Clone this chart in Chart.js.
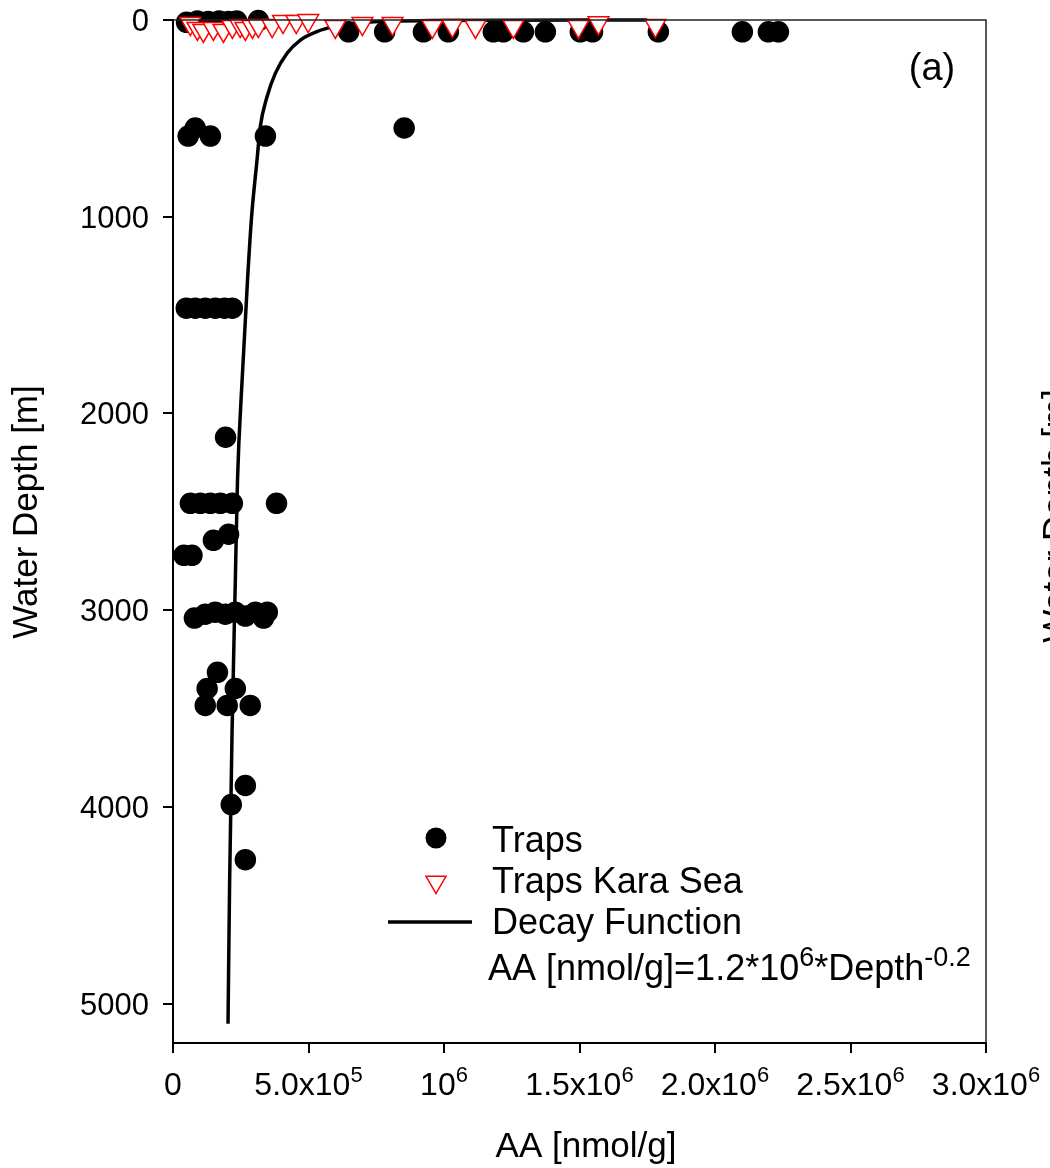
<!DOCTYPE html>
<html>
<head>
<meta charset="utf-8">
<script src="https://cdn.jsdelivr.net/npm/chart.js@4.4.1/dist/chart.umd.min.js"></script>
<style>
  html, body { margin: 0; padding: 0; background: #fff; }
</style>
</head>
<body>
<canvas id="chart" width="1050" height="1168"></canvas>
<script>
const FONT = '"Liberation Sans", Arial, sans-serif';

// Traps (black circles): AA [nmol/g] and water depth [m]
const trapsAA = [
  50000, 90000, 130000, 170000, 205000, 235000, 315000,
  648000, 781000, 924000, 1016000, 1182000, 1219000, 1293000, 1374000, 1503000, 1548000, 1791000, 2101000, 2197000, 2234000,
  56000, 82000, 138000, 341000, 853000,
  49000, 82000, 119000, 156000, 190000, 219000,
  194000,
  64000, 101000, 138000, 175000, 219000, 382000,
  205000, 149000,
  40000, 70000,
  79000, 119000, 156000, 193000, 230000, 267000, 304000, 334000, 348000,
  164000, 126000, 230000, 119000, 200000, 285000,
  267000, 215000, 267000
];
const trapsDepth = [
  12, 5, 8, 5, 8, 5, 3,
  60, 60, 60, 60, 60, 60, 60, 60, 60, 60, 60, 60, 60, 60,
  590, 549, 590, 590, 549,
  1465, 1465, 1465, 1465, 1465, 1465,
  2121,
  2457, 2457, 2457, 2457, 2457, 2457,
  2614, 2645,
  2721, 2721,
  3040, 3020, 3010, 3020, 3010, 3030, 3010, 3040, 3010,
  3316, 3398, 3398, 3484, 3484, 3484,
  3891, 3988, 4268
];

// Traps Kara Sea (red open triangles)
const karaAA = [
  64000, 90000, 112000, 149000, 186000, 219000, 248000, 267000, 293000, 315000, 366000, 406000,
  455000, 499000, 599000, 699000, 810000, 957000, 1031000, 1116000, 1256000, 1496000, 1570000, 1780000
];
const karaDepth = [
  18, 43, 53, 43, 53, 33, 28, 43, 33, 28, 28, 8,
  8, 3, 33, 18, 18, 33, 28, 33, 33, 33, 14, 28
];

// Decay function
const decayAA = [1750000, 1200000, 950000, 813000, 691000, 605000, 531000, 470000, 421000, 378000, 347000,
  322000, 310000, 290000, 275000, 255000, 238000, 230000, 218000, 209000, 203000];
const decayDepth = [0, 1, 3, 5, 14, 30, 59, 102, 169, 270, 390,
  543, 712, 1000, 1322, 1831, 2340, 2848, 3611, 4374, 5102];

// Tick labels
const xTickValues = [0, 500000, 1000000, 1500000, 2000000, 2500000, 3000000];
const xTickBase = ['0', '5.0x10', '10', '1.5x10', '2.0x10', '2.5x10', '3.0x10'];
const xTickExp = ['', '5', '6', '6', '6', '6', '6'];
const yTickValues = [0, 1000, 2000, 3000, 4000, 5000];

const toPoints = (xs, ys) => xs.map((x, i) => ({ x: x, y: ys[i] }));

// draw text with superscript parts
function drawRich(ctx, parts, x, y, size, align, supRatio) {
  const supSize = Math.round(size * (supRatio || 0.68));
  let w = 0;
  parts.forEach(p => {
    ctx.font = (p.sup ? supSize : size) + 'px ' + FONT;
    w += ctx.measureText(p.t).width;
  });
  let cx = align === 'center' ? x - w / 2 : (align === 'right' ? x - w : x);
  ctx.textAlign = 'left';
  ctx.textBaseline = 'alphabetic';
  parts.forEach(p => {
    ctx.font = (p.sup ? supSize : size) + 'px ' + FONT;
    ctx.fillText(p.t, cx, p.sup ? y - size * 0.4 : y);
    cx += ctx.measureText(p.t).width;
  });
}

const decorations = {
  id: 'decorations',
  afterDraw(chart) {
    const ctx = chart.ctx;
    const area = chart.chartArea;
    const xs = chart.scales.x;
    const ys = chart.scales.y;
    ctx.save();

    // thin top and right frame
    ctx.strokeStyle = '#222';
    ctx.lineWidth = 1.5;
    ctx.beginPath();
    ctx.moveTo(area.left, area.top);
    ctx.lineTo(area.right, area.top);
    ctx.lineTo(area.right, area.bottom);
    ctx.stroke();

    ctx.fillStyle = '#000';

    // x tick labels
    xTickValues.forEach((v, i) => {
      const parts = [{ t: xTickBase[i] }];
      if (xTickExp[i]) parts.push({ t: xTickExp[i], sup: true });
      drawRich(ctx, parts, xs.getPixelForValue(v), 1095, 32, 'center', 0.7);
    });

    // y tick labels
    ctx.font = '31px ' + FONT;
    ctx.textAlign = 'right';
    ctx.textBaseline = 'alphabetic';
    yTickValues.forEach(v => {
      ctx.fillText(String(v), 149, ys.getPixelForValue(v) + 11);
    });

    // axis titles
    ctx.font = '35px ' + FONT;
    ctx.textAlign = 'center';
    ctx.fillText('AA [nmol/g]', 586, 1157);
    ctx.save();
    ctx.translate(37, 512);
    ctx.rotate(-Math.PI / 2);
    ctx.fillText('Water Depth [m]', 0, 0);
    ctx.restore();

    // neighbouring panel's axis title, cut by the right edge
    ctx.save();
    ctx.translate(1067, 516);
    ctx.rotate(-Math.PI / 2);
    ctx.fillText('Water Depth [m]', 0, 0);
    ctx.restore();

    // panel label
    ctx.font = '38px ' + FONT;
    ctx.fillText('(a)', 932, 80);

    // legend
    ctx.fillStyle = '#000';
    ctx.beginPath();
    ctx.arc(436, 838, 10.5, 0, Math.PI * 2);
    ctx.fill();

    const r = 11.5;
    ctx.beginPath();
    ctx.moveTo(436, 882 + r);
    ctx.lineTo(436 - r * 0.866, 882 - r / 2);
    ctx.lineTo(436 + r * 0.866, 882 - r / 2);
    ctx.closePath();
    ctx.strokeStyle = '#ff0000';
    ctx.lineWidth = 1.5;
    ctx.stroke();

    ctx.strokeStyle = '#000';
    ctx.lineWidth = 3.5;
    ctx.beginPath();
    ctx.moveTo(388, 922);
    ctx.lineTo(472, 922);
    ctx.stroke();

    ctx.font = '36px ' + FONT;
    ctx.textAlign = 'left';
    ctx.fillText('Traps', 492, 852);
    ctx.fillText('Traps Kara Sea', 492, 893);
    ctx.fillText('Decay Function', 492, 934);
    drawRich(ctx, [
      { t: 'AA [nmol/g]=1.2*10' }, { t: '6', sup: true },
      { t: '*Depth' }, { t: '-0.2', sup: true }
    ], 488, 980, 36, 'left', 0.74);

    ctx.restore();
  }
};

new Chart(document.getElementById('chart'), {
  type: 'scatter',
  data: {
    datasets: [
      {
        label: 'Traps Kara Sea',
        data: toPoints(karaAA, karaDepth),
        pointStyle: 'triangle',
        rotation: 180,
        pointRadius: 12,
        pointBackgroundColor: '#fff',
        pointBorderColor: '#ff0000',
        pointBorderWidth: 1.5,
        clip: false
      },
      {
        label: 'Decay Function',
        data: toPoints(decayAA, decayDepth),
        showLine: true,
        borderColor: '#000',
        borderWidth: 3.5,
        pointRadius: 0,
        cubicInterpolationMode: 'monotone',
        clip: false
      },
      {
        label: 'Traps',
        data: toPoints(trapsAA, trapsDepth),
        pointStyle: 'circle',
        pointRadius: 10,
        pointBackgroundColor: '#000',
        pointBorderColor: '#000',
        pointBorderWidth: 1.5,
        clip: false
      }
    ]
  },
  options: {
    responsive: false,
    animation: false,
    events: [],
    layout: { padding: { top: 20, right: 64, left: 0, bottom: 0 } },
    plugins: {
      legend: { display: false },
      tooltip: { enabled: false }
    },
    scales: {
      x: {
        type: 'linear',
        min: 0,
        max: 3000000,
        afterBuildTicks: (scale) => { scale.ticks = xTickValues.map(v => ({ value: v })); },
        afterFit: (scale) => { scale.height = 125; },
        ticks: { display: false },
        grid: { drawOnChartArea: false, drawTicks: true, tickLength: 10, color: '#000', lineWidth: 2 },
        border: { display: true, color: '#000', width: 2 }
      },
      y: {
        type: 'linear',
        min: 0,
        max: 5200,
        reverse: true,
        afterBuildTicks: (scale) => { scale.ticks = yTickValues.map(v => ({ value: v })); },
        afterFit: (scale) => { scale.width = 173; },
        ticks: { display: false },
        grid: { drawOnChartArea: false, drawTicks: true, tickLength: 10, color: '#000', lineWidth: 2 },
        border: { display: true, color: '#000', width: 2 }
      }
    }
  },
  plugins: [decorations]
});
</script>
</body>
</html>
